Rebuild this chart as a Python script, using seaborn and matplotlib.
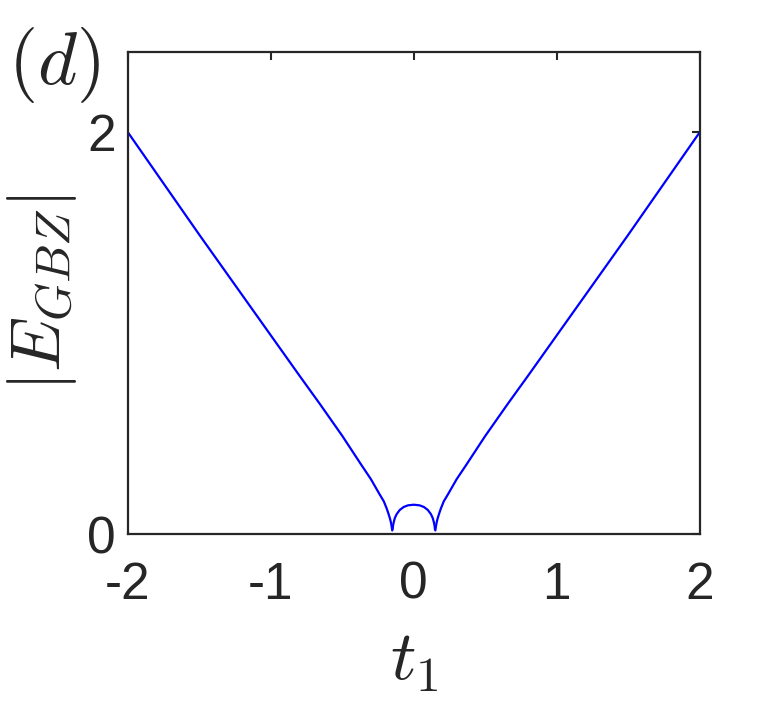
import matplotlib
matplotlib.use("Agg")
import matplotlib.pyplot as plt
import seaborn as sns
import pandas as pd

# ---- data ----
t_left = [-2.0, -1.75, -1.5, -1.25, -1.0, -0.8, -0.656, -0.5, -0.366,
          -0.3, -0.237, -0.21, -0.19, -0.178, -0.167, -0.16, -0.155, -0.151]
E_left = [2.0, 1.745, 1.49, 1.24, 0.99, 0.79, 0.648, 0.49, 0.345,
          0.275, 0.197, 0.165, 0.13, 0.105, 0.08, 0.06, 0.04, 0.02]

t_mid = [-0.148, -0.145, -0.14, -0.133, -0.12, -0.098, -0.07, -0.04, 0.0,
         0.04, 0.07, 0.098, 0.12, 0.133, 0.14, 0.145, 0.148]
E_mid = [0.025, 0.045, 0.062, 0.081, 0.101, 0.122, 0.137, 0.145, 0.148,
         0.145, 0.137, 0.122, 0.101, 0.081, 0.062, 0.045, 0.025]

t_right = [0.151, 0.155, 0.16, 0.167, 0.178, 0.19, 0.21, 0.237, 0.3, 0.366,
           0.5, 0.656, 0.8, 1.0, 1.25, 1.5, 1.75, 2.0]
E_right = [0.02, 0.04, 0.06, 0.08, 0.105, 0.13, 0.165, 0.197, 0.275, 0.345,
           0.49, 0.648, 0.79, 0.99, 1.24, 1.49, 1.745, 2.0]

x_ticks = [-2, -1, 0, 1, 2]
y_ticks = [0, 2]

sns.set_theme(style="white")
plt.rcParams["font.family"] = ["Liberation Sans", "DejaVu Sans"]
plt.rcParams["mathtext.fontset"] = "cm"

dark = "#262626"
fig = plt.figure(figsize=(7.73, 7.13), dpi=100)
ax = fig.add_axes([0.1656, 0.2504, 0.7394, 0.6766])

for tt, ee in [(t_left, E_left), (t_mid, E_mid), (t_right, E_right)]:
    df = pd.DataFrame({"t": tt, "E": ee})
    sns.lineplot(data=df, x="t", y="E", ax=ax, color="#0000ff", lw=1.6,
                 sort=False, estimator=None)

ax.set_xlim(-2, 2)
ax.set_ylim(0, 2.4)
ax.set_xticks(x_ticks)
ax.set_xticklabels([str(v) for v in x_ticks])
ax.set_yticks(y_ticks)
ax.set_yticklabels([str(v) for v in y_ticks])
ax.tick_params(axis="both", direction="in", length=6, width=1.5, colors=dark,
               labelsize=37, top=True, right=True)
ax.tick_params(axis="x", pad=19)
ax.tick_params(axis="y", pad=9)
for s in ax.spines.values():
    s.set_visible(True)
    s.set_color(dark)
    s.set_linewidth(1.6)

ax.set_xlabel(r"$t_1$", fontsize=51, color=dark, labelpad=14)
ax.set_ylabel(r"$|E_{GBZ}|$", fontsize=50, color=dark, labelpad=6)
fig.text(0.010, 0.965, r"$(d)$", fontsize=54, color=dark, va="top", ha="left")

fig.savefig("out.png", dpi=100)
